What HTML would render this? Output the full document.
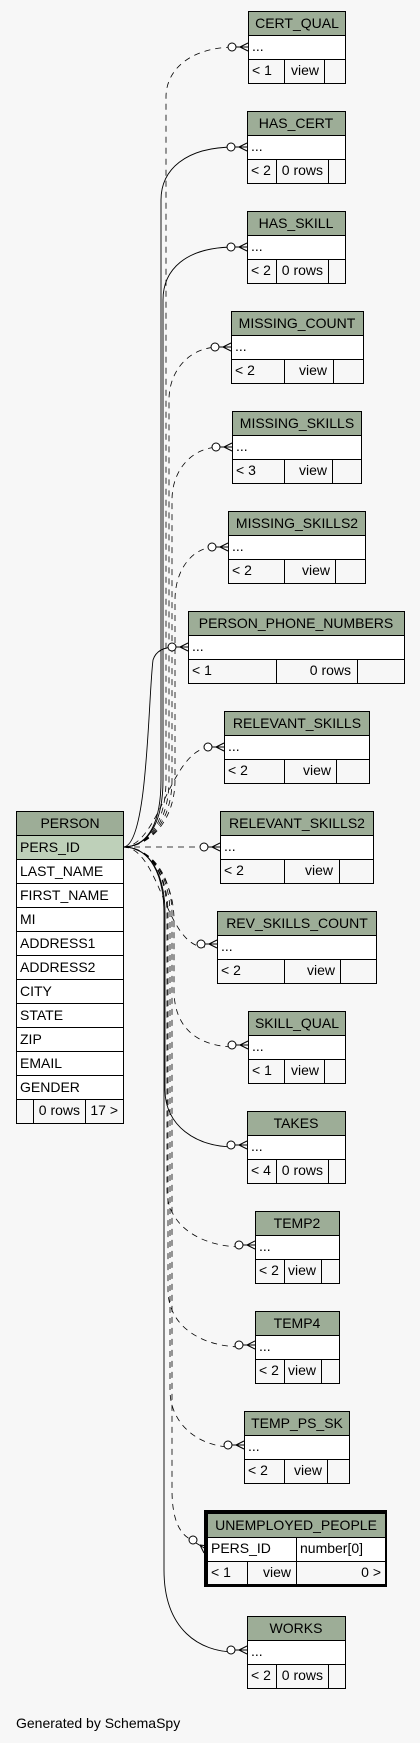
<!DOCTYPE html>
<html><head><meta charset="utf-8"><style>
html,body{margin:0;padding:0;background:#f7f7f7;}
svg{display:block;font-family:"Liberation Sans",sans-serif;font-size:14px;}
.h{fill:#9dad97;stroke:#000;stroke-width:1}
.r{fill:#fff;stroke:#000;stroke-width:1}
.f{fill:#f7f7f7;stroke:#000;stroke-width:1}
.p{fill:#bed0b9;stroke:#000;stroke-width:1}
.e{fill:none;stroke:#000;stroke-width:1}
.s{fill:none;stroke:#000;stroke-width:0.9}
.d{fill:none;stroke:#000;stroke-width:0.8;stroke-dasharray:6,5}
.c{fill:#fff;stroke:#000;stroke-width:1}
</style></head><body>
<svg width="420" height="1743" viewBox="0 0 420 1743">
<rect width="420" height="1743" fill="#f7f7f7"/>
<g>
<path class="d" d="M123,847 C150,847 166,820 166,780 L166,97 C166,70 190,47 236,47"/>
<path class="s" d="M123,847 C150,847 161,820 161,780 L161,200 C161,170 185,147 235,147"/>
<path class="s" d="M123,847 C150,847 163,820 163,780 L163,300 C163,270 185,247 235,247"/>
<path class="d" d="M123,847 C150,847 169,820 169,780 L169,400 C169,370 190,347 219,347"/>
<path class="d" d="M123,847 C150,847 172,820 172,780 L172,500 C172,470 192,447 220,447"/>
<path class="d" d="M123,847 C150,847 175,820 175,780 L175,600 C175,570 192,547 216,547"/>
<path class="s" d="M123,847 C148,847 148,700 153,660 C156,650 165,647 176,647"/>
<path class="d" d="M123,847 C160,847 170,747 212,747"/>
<path class="d" d="M123,847 L208,847"/>
<path class="d" d="M123,847 C160,847 165,947 205,947"/>
<path class="d" d="M123,847 C150,847 174,880 174,920 L174,990 C174,1030 200,1047 236,1047"/>
<path class="s" d="M123,847 C150,847 165,874 165,914 L165,1090 C165,1125 195,1147 235,1147"/>
<path class="d" d="M123,847 C150,847 167,874 167,914 L167,1190 C167,1225 200,1247 243,1247"/>
<path class="d" d="M123,847 C150,847 168,874 168,914 L168,1290 C168,1325 200,1347 243,1347"/>
<path class="d" d="M123,847 C150,847 170,874 170,914 L170,1390 C170,1425 200,1447 232,1447"/>
<path class="d" d="M123,847 C150,847 172,874 172,914 L172,1490 C172,1520 180,1535 192,1540"/>
<path class="s" d="M123,847 C150,847 164,874 164,914 L164,1570 C164,1630 200,1652 235,1652"/>
</g>
<g>
<circle class="c" cx="232" cy="47" r="4"/><path class="e" d="M236,47 H248 M240,47 L248,43 M240,47 L248,51"/>
<circle class="c" cx="231" cy="147" r="4"/><path class="e" d="M235,147 H247 M239,147 L247,143 M239,147 L247,151"/>
<circle class="c" cx="231" cy="247" r="4"/><path class="e" d="M235,247 H247 M239,247 L247,243 M239,247 L247,251"/>
<circle class="c" cx="215" cy="347" r="4"/><path class="e" d="M219,347 H231 M223,347 L231,343 M223,347 L231,351"/>
<circle class="c" cx="216" cy="447" r="4"/><path class="e" d="M220,447 H232 M224,447 L232,443 M224,447 L232,451"/>
<circle class="c" cx="212" cy="547" r="4"/><path class="e" d="M216,547 H228 M220,547 L228,543 M220,547 L228,551"/>
<circle class="c" cx="172" cy="647" r="4"/><path class="e" d="M176,647 H188 M180,647 L188,643 M180,647 L188,651"/>
<circle class="c" cx="208" cy="747" r="4"/><path class="e" d="M212,747 H224 M216,747 L224,743 M216,747 L224,751"/>
<circle class="c" cx="204" cy="847" r="4"/><path class="e" d="M208,847 H220 M212,847 L220,843 M212,847 L220,851"/>
<circle class="c" cx="201" cy="944" r="4"/><path class="e" d="M205,944 H217 M209,944 L217,940 M209,944 L217,948"/>
<circle class="c" cx="232" cy="1045" r="4"/><path class="e" d="M236,1045 H248 M240,1045 L248,1041 M240,1045 L248,1049"/>
<circle class="c" cx="231" cy="1145" r="4"/><path class="e" d="M235,1145 H247 M239,1145 L247,1141 M239,1145 L247,1149"/>
<circle class="c" cx="239" cy="1245" r="4"/><path class="e" d="M243,1245 H255 M247,1245 L255,1241 M247,1245 L255,1249"/>
<circle class="c" cx="239" cy="1345" r="4"/><path class="e" d="M243,1345 H255 M247,1345 L255,1341 M247,1345 L255,1349"/>
<circle class="c" cx="228" cy="1445" r="4"/><path class="e" d="M232,1445 H244 M236,1445 L244,1441 M236,1445 L244,1449"/>
<circle class="c" cx="193" cy="1540" r="4"/><path class="e" d="M196,1543 L206,1549 M200,1545 L204,1553 M200,1545 L208,1546"/>
<circle class="c" cx="231" cy="1650" r="4"/><path class="e" d="M235,1650 H247 M239,1650 L247,1646 M239,1650 L247,1654"/>
</g>
<g>
<rect class="h" x="248.5" y="11.5" width="97" height="24"/><rect class="r" x="248.5" y="35.5" width="97" height="24"/><rect class="f" x="248.5" y="59.5" width="97" height="24"/>
<path class="e" d="M284.5,59.5 V83.5 M324.5,59.5 V83.5"/>
<text x="297" y="28" text-anchor="middle">CERT_QUAL</text><text x="252" y="51">...</text><text x="252" y="75">&lt; 1</text><text x="319" y="75" text-anchor="end">view</text>
<rect class="h" x="247.5" y="111.5" width="98" height="24"/><rect class="r" x="247.5" y="135.5" width="98" height="24"/><rect class="f" x="247.5" y="159.5" width="98" height="24"/>
<path class="e" d="M276.5,159.5 V183.5 M328.5,159.5 V183.5"/>
<text x="296" y="128" text-anchor="middle">HAS_CERT</text><text x="251" y="151">...</text><text x="251" y="175">&lt; 2</text><text x="323" y="175" text-anchor="end">0 rows</text>
<rect class="h" x="247.5" y="211.5" width="98" height="24"/><rect class="r" x="247.5" y="235.5" width="98" height="24"/><rect class="f" x="247.5" y="259.5" width="98" height="24"/>
<path class="e" d="M276.5,259.5 V283.5 M328.5,259.5 V283.5"/>
<text x="296" y="228" text-anchor="middle">HAS_SKILL</text><text x="251" y="251">...</text><text x="251" y="275">&lt; 2</text><text x="323" y="275" text-anchor="end">0 rows</text>
<rect class="h" x="231.5" y="311.5" width="132" height="24"/><rect class="r" x="231.5" y="335.5" width="132" height="24"/><rect class="f" x="231.5" y="359.5" width="132" height="24"/>
<path class="e" d="M284.5,359.5 V383.5 M333.5,359.5 V383.5"/>
<text x="297" y="328" text-anchor="middle">MISSING_COUNT</text><text x="235" y="351">...</text><text x="235" y="375">&lt; 2</text><text x="327" y="375" text-anchor="end">view</text>
<rect class="h" x="232.5" y="411.5" width="129" height="24"/><rect class="r" x="232.5" y="435.5" width="129" height="24"/><rect class="f" x="232.5" y="459.5" width="129" height="24"/>
<path class="e" d="M284.5,459.5 V483.5 M332.5,459.5 V483.5"/>
<text x="297" y="428" text-anchor="middle">MISSING_SKILLS</text><text x="236" y="451">...</text><text x="236" y="475">&lt; 3</text><text x="327" y="475" text-anchor="end">view</text>
<rect class="h" x="228.5" y="511.5" width="137" height="24"/><rect class="r" x="228.5" y="535.5" width="137" height="24"/><rect class="f" x="228.5" y="559.5" width="137" height="24"/>
<path class="e" d="M284.5,559.5 V583.5 M335.5,559.5 V583.5"/>
<text x="297" y="528" text-anchor="middle">MISSING_SKILLS2</text><text x="232" y="551">...</text><text x="232" y="575">&lt; 2</text><text x="330" y="575" text-anchor="end">view</text>
<rect class="h" x="188.5" y="611.5" width="216" height="24"/><rect class="r" x="188.5" y="635.5" width="216" height="24"/><rect class="f" x="188.5" y="659.5" width="216" height="24"/>
<path class="e" d="M276.5,659.5 V683.5 M357.5,659.5 V683.5"/>
<text x="296" y="628" text-anchor="middle">PERSON_PHONE_NUMBERS</text><text x="192" y="651">...</text><text x="192" y="675">&lt; 1</text><text x="351" y="675" text-anchor="end">0 rows</text>
<rect class="h" x="224.5" y="711.5" width="145" height="24"/><rect class="r" x="224.5" y="735.5" width="145" height="24"/><rect class="f" x="224.5" y="759.5" width="145" height="24"/>
<path class="e" d="M284.5,759.5 V783.5 M336.5,759.5 V783.5"/>
<text x="297" y="728" text-anchor="middle">RELEVANT_SKILLS</text><text x="228" y="751">...</text><text x="228" y="775">&lt; 2</text><text x="331" y="775" text-anchor="end">view</text>
<rect class="h" x="220.5" y="811.5" width="153" height="24"/><rect class="r" x="220.5" y="835.5" width="153" height="24"/><rect class="f" x="220.5" y="859.5" width="153" height="24"/>
<path class="e" d="M284.5,859.5 V883.5 M339.5,859.5 V883.5"/>
<text x="297" y="828" text-anchor="middle">RELEVANT_SKILLS2</text><text x="224" y="851">...</text><text x="224" y="875">&lt; 2</text><text x="333" y="875" text-anchor="end">view</text>
<rect class="h" x="217.5" y="911.5" width="159" height="24"/><rect class="r" x="217.5" y="935.5" width="159" height="24"/><rect class="f" x="217.5" y="959.5" width="159" height="24"/>
<path class="e" d="M284.5,959.5 V983.5 M340.5,959.5 V983.5"/>
<text x="297" y="928" text-anchor="middle">REV_SKILLS_COUNT</text><text x="221" y="951">...</text><text x="221" y="975">&lt; 2</text><text x="335" y="975" text-anchor="end">view</text>
<rect class="h" x="248.5" y="1011.5" width="97" height="24"/><rect class="r" x="248.5" y="1035.5" width="97" height="24"/><rect class="f" x="248.5" y="1059.5" width="97" height="24"/>
<path class="e" d="M284.5,1059.5 V1083.5 M324.5,1059.5 V1083.5"/>
<text x="297" y="1028" text-anchor="middle">SKILL_QUAL</text><text x="252" y="1051">...</text><text x="252" y="1075">&lt; 1</text><text x="319" y="1075" text-anchor="end">view</text>
<rect class="h" x="247.5" y="1111.5" width="98" height="24"/><rect class="r" x="247.5" y="1135.5" width="98" height="24"/><rect class="f" x="247.5" y="1159.5" width="98" height="24"/>
<path class="e" d="M276.5,1159.5 V1183.5 M328.5,1159.5 V1183.5"/>
<text x="296" y="1128" text-anchor="middle">TAKES</text><text x="251" y="1151">...</text><text x="251" y="1175">&lt; 4</text><text x="323" y="1175" text-anchor="end">0 rows</text>
<rect class="h" x="255.5" y="1211.5" width="84" height="24"/><rect class="r" x="255.5" y="1235.5" width="84" height="24"/><rect class="f" x="255.5" y="1259.5" width="84" height="24"/>
<path class="e" d="M284.5,1259.5 V1283.5 M321.5,1259.5 V1283.5"/>
<text x="297" y="1228" text-anchor="middle">TEMP2</text><text x="259" y="1251">...</text><text x="259" y="1275">&lt; 2</text><text x="316" y="1275" text-anchor="end">view</text>
<rect class="h" x="255.5" y="1311.5" width="84" height="24"/><rect class="r" x="255.5" y="1335.5" width="84" height="24"/><rect class="f" x="255.5" y="1359.5" width="84" height="24"/>
<path class="e" d="M284.5,1359.5 V1383.5 M321.5,1359.5 V1383.5"/>
<text x="297" y="1328" text-anchor="middle">TEMP4</text><text x="259" y="1351">...</text><text x="259" y="1375">&lt; 2</text><text x="316" y="1375" text-anchor="end">view</text>
<rect class="h" x="244.5" y="1411.5" width="105" height="24"/><rect class="r" x="244.5" y="1435.5" width="105" height="24"/><rect class="f" x="244.5" y="1459.5" width="105" height="24"/>
<path class="e" d="M284.5,1459.5 V1483.5 M327.5,1459.5 V1483.5"/>
<text x="297" y="1428" text-anchor="middle">TEMP_PS_SK</text><text x="248" y="1451">...</text><text x="248" y="1475">&lt; 2</text><text x="322" y="1475" text-anchor="end">view</text>
<rect x="204" y="1510" width="183" height="77" fill="#000"/>
<rect class="h" x="207.5" y="1513.5" width="178" height="24"/><rect class="r" x="207.5" y="1537.5" width="178" height="24"/><rect class="f" x="207.5" y="1561.5" width="178" height="23"/>
<path class="e" d="M296.5,1537.5 V1584.5 M247.5,1561.5 V1584.5"/>
<text x="296" y="1530" text-anchor="middle">UNEMPLOYED_PEOPLE</text><text x="211" y="1553">PERS_ID</text><text x="300" y="1553">number[0]</text>
<text x="211" y="1577">&lt; 1</text><text x="291" y="1577" text-anchor="end">view</text><text x="381" y="1577" text-anchor="end">0 &gt;</text>
<rect class="h" x="247.5" y="1616.5" width="98" height="24"/><rect class="r" x="247.5" y="1640.5" width="98" height="24"/><rect class="f" x="247.5" y="1664.5" width="98" height="24"/>
<path class="e" d="M276.5,1664.5 V1688.5 M328.5,1664.5 V1688.5"/>
<text x="296" y="1633" text-anchor="middle">WORKS</text><text x="251" y="1656">...</text><text x="251" y="1680">&lt; 2</text><text x="323" y="1680" text-anchor="end">0 rows</text>
<rect class="h" x="16.5" y="811.5" width="107" height="24"/>
<rect class="p" x="16.5" y="835.5" width="107" height="24"/>
<rect class="r" x="16.5" y="859.5" width="107" height="24"/>
<rect class="r" x="16.5" y="883.5" width="107" height="24"/>
<rect class="r" x="16.5" y="907.5" width="107" height="24"/>
<rect class="r" x="16.5" y="931.5" width="107" height="24"/>
<rect class="r" x="16.5" y="955.5" width="107" height="24"/>
<rect class="r" x="16.5" y="979.5" width="107" height="24"/>
<rect class="r" x="16.5" y="1003.5" width="107" height="24"/>
<rect class="r" x="16.5" y="1027.5" width="107" height="24"/>
<rect class="r" x="16.5" y="1051.5" width="107" height="24"/>
<rect class="r" x="16.5" y="1075.5" width="107" height="24"/>
<rect class="f" x="16.5" y="1099.5" width="107" height="24"/>
<path class="e" d="M33.5,1099.5 V1123.5 M85.5,1099.5 V1123.5"/>
<text x="70" y="828" text-anchor="middle">PERSON</text>
<text x="20" y="852">PERS_ID</text>
<text x="20" y="876">LAST_NAME</text>
<text x="20" y="900">FIRST_NAME</text>
<text x="20" y="924">MI</text>
<text x="20" y="948">ADDRESS1</text>
<text x="20" y="972">ADDRESS2</text>
<text x="20" y="996">CITY</text>
<text x="20" y="1020">STATE</text>
<text x="20" y="1044">ZIP</text>
<text x="20" y="1068">EMAIL</text>
<text x="20" y="1092">GENDER</text>
<text x="80" y="1115" text-anchor="end">0 rows</text>
<text x="118" y="1115" text-anchor="end">17 &gt;</text>
</g>
<text x="16" y="1728">Generated by SchemaSpy</text>
</svg>
</body></html>
